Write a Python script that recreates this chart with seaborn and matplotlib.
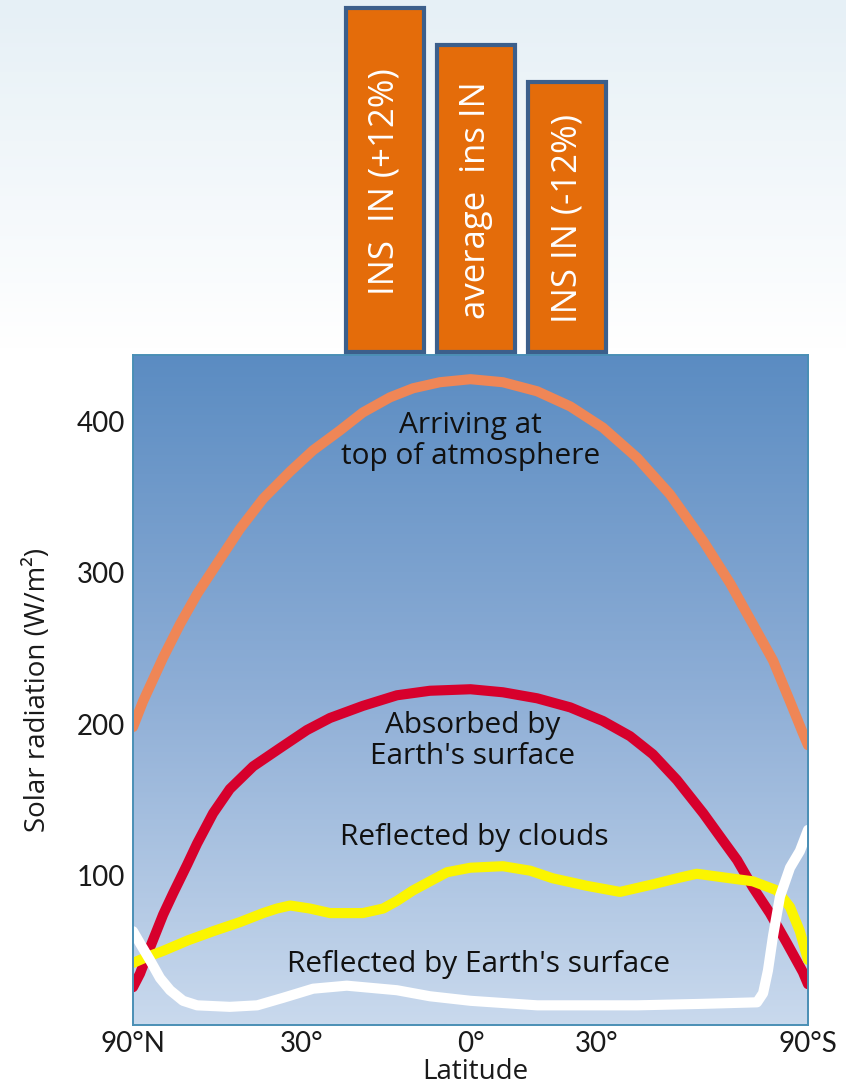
import numpy as np
import seaborn as sns
import matplotlib.pyplot as plt
from matplotlib.colors import LinearSegmentedColormap

# latitude in degrees, north positive (90N drawn on the left)
lat_top = [90, 76, 65.6, 59.4, 54.1, 48.7, 43.1, 37.9, 32.3, 27.8, 22.8, 18.6, 13.8, 9.8, 5.2, 0,
           -5.5, -11.4, -17.2, -23.1, -29.6, -36.2, -43.6, -50.3, -56.8, -63.7, -71.2, -80, -90]
rad_top = [198, 215, 244, 266, 286, 306, 329, 349, 367, 381, 394, 406, 416, 422, 426, 428,
           426, 420, 410, 396, 376, 352, 321, 293, 266, 242, 215, 194, 186]

lat_abs = [90, 78.3, 71.8, 65.6, 61.8, 57.1, 54.1, 49.7, 45.5, 40.1, 34.4, 29, 24.6, 18.6, 12.6, 6.9, 0,
           -5.5, -11.4, -17.2, -23.1, -28.2, -32.7, -37.7, -43.6, -48.4, -52.2, -56.8, -62.5, -69.7, -80, -90]
rad_abs = [26, 35, 52, 74, 88, 107, 121, 141, 157, 172, 184, 196, 204, 212, 219, 222, 223,
           221, 217, 211, 202, 192, 180, 163, 141, 123, 110, 92, 75, 55, 36, 28]

lat_cld = [90, 73.5, 65.6, 56.8, 49.7, 43.1, 37.9, 35, 32.3, 28.4, 24.6, 18.6, 15, 12.6, 9.8, 6.9, 4, 0,
           -5.5, -10.2, -14.1, -20.2, -26.3, -32.7, -37.7, -42.1, -50.3, -56.8, -65.2, -71.2, -77.4, -90]
rad_cld = [42, 46, 50, 57, 63, 69, 75, 78, 80, 78, 75, 75, 78, 83, 90, 96, 102, 105,
           106, 103, 98, 93, 89, 94, 98, 101, 98, 96, 90, 79, 63, 44]

lat_sfc = [90, 78.3, 71.8, 66.9, 62.9, 58.4, 54.1, 45.5, 39.2, 33.7, 27.8, 21.5, 12.6, 6.9, 0,
           -11.4, -29.6, -43.6, -58.1, -60.1, -61.8, -63.7, -66.5, -71.2, -77.4, -90]
rad_sfc = [63, 55, 44, 32, 24, 17, 14, 13, 14, 19, 25, 27, 24, 20, 17,
           14, 14, 15, 16, 22, 37, 60, 86, 105, 116, 130]

# bars above the chart (relative insolation)
bar_labels = ["INS  IN (+12%)", "average  ins IN", "INS IN (-12%)"]
bar_values = [1.12, 1.00, 0.88]

minor_lat = [80, 70, 60, 50, 40, 30, 20, 10, 0, -10, -20, -30, -40, -50, -60, -70, -80]
label_lat = [90, 30, 0, -22, -90]
label_txt = ["90°N", "30°", "0°", "30°", "90°S"]

sns.set_style("white")
plt.rcParams['font.family'] = ['Lato', 'DejaVu Sans']
txt_font = ['Open Sans', 'DejaVu Sans']

W, H = 846, 1087
fig = plt.figure(figsize=(W / 100, H / 100), dpi=100)

# slide background: pale blue fading to white
bg = fig.add_axes([0, 0, 1, 1], zorder=-10)
bg_cmap = LinearSegmentedColormap.from_list("bg", [(0, "#e6f0f6"), (0.32, "#ffffff"), (1, "#ffffff")])
bg.imshow(np.linspace(0, 1, 300)[:, None], cmap=bg_cmap, aspect='auto', extent=[0, 1, 0, 1])
bg.set_axis_off()

# main axes position in pixels
x0, x1, y0, y1 = 133, 808, 355, 1025
pos = [x0 / W, (H - y1) / H, (x1 - x0) / W, (y1 - y0) / H]

grad = fig.add_axes(pos, zorder=-5)
ax_cmap = LinearSegmentedColormap.from_list("ax", ["#5b8cc2", "#8eaed6", "#c9d9ed"])
grad.imshow(np.linspace(0, 1, 300)[:, None], cmap=ax_cmap, aspect='auto', extent=[0, 1, 0, 1])
grad.set_axis_off()

ax = fig.add_axes(pos)
ax.set_facecolor('none')

fwd = lambda d: np.sin(np.radians(np.asarray(d, dtype=float)))
inv = lambda v: np.degrees(np.arcsin(np.clip(v, -1, 1)))
ax.set_xscale('function', functions=(fwd, inv))

lkw = dict(ax=ax, linewidth=7.3, sort=False, estimator=None, solid_joinstyle='round')
sns.lineplot(x=lat_top, y=rad_top, color="#ef8656", **lkw)
sns.lineplot(x=lat_abs, y=rad_abs, color="#d7002c", **lkw)
sns.lineplot(x=lat_cld, y=rad_cld, color="#fbf500", **lkw)
sns.lineplot(x=lat_sfc, y=rad_sfc, color="#ffffff", **lkw)

ax.set_xlim(90, -90)
ax.set_ylim(1, 444)

spine_c = "#4a8fb5"
for s in ax.spines.values():
    s.set_color(spine_c)
    s.set_linewidth(1.4)

ax.set_yticks([100, 200, 300, 400])
ax.set_yticklabels(["100", "200", "300", "400"])
ax.tick_params(axis='y', direction='in', length=9, width=1.4, color=spine_c,
               labelsize=20, labelcolor="#1a1a1a", pad=6)

ax.set_xticks(label_lat)
ax.set_xticklabels(label_txt)
ax.set_xticks(minor_lat, minor=True)
ax.tick_params(axis='x', which='major', length=0, labelsize=20, labelcolor="#1a1a1a", pad=4)
ax.tick_params(axis='x', which='minor', direction='in', length=9, width=1.4, color=spine_c)

ax.set_ylabel("Solar radiation (W/m²)", fontsize=20, color="#1a1a1a", family=txt_font)
ax.yaxis.set_label_coords(-0.12, 0.5)
ax.set_xlabel("Latitude", fontsize=20, color="#1a1a1a", family=txt_font, va='baseline')
ax.xaxis.set_label_coords(0.507, -0.0806)

tkw = dict(ha='center', va='center', fontsize=21.5, color="#111111", linespacing=1.1, family=txt_font)
ax.text(0, 387, "Arriving at\ntop of atmosphere", **tkw)
ax.text(-0.3, 189, "Absorbed by\nEarth's surface", **tkw)
ax.text(-0.6, 125, "Reflected by clouds", **tkw)
ax.text(-1.3, 41, "Reflected by Earth's surface", **tkw)

# orange boxes on top
bx0, bx1 = 330, 625
axb = fig.add_axes([bx0 / W, (H - 352) / H, (bx1 - bx0) / W, 352 / H])
sns.barplot(x=bar_labels, y=bar_values, ax=axb, color="#e46c0a", saturation=1,
            edgecolor="#3c5f8b", linewidth=3, width=0.85)
for p in axb.patches:
    p.set_clip_on(False)
axb.set_xlim(-0.604, 2.637)
axb.set_ylim(0, 1.1466)
axb.set_axis_off()
for i, (lab, v) in enumerate(zip(bar_labels, bar_values)):
    axb.text(i, v / 2 - 0.005, lab, rotation=90, ha='center', va='center',
             color='white', fontsize=25, family=txt_font)

fig.savefig("out.png", dpi=100)
